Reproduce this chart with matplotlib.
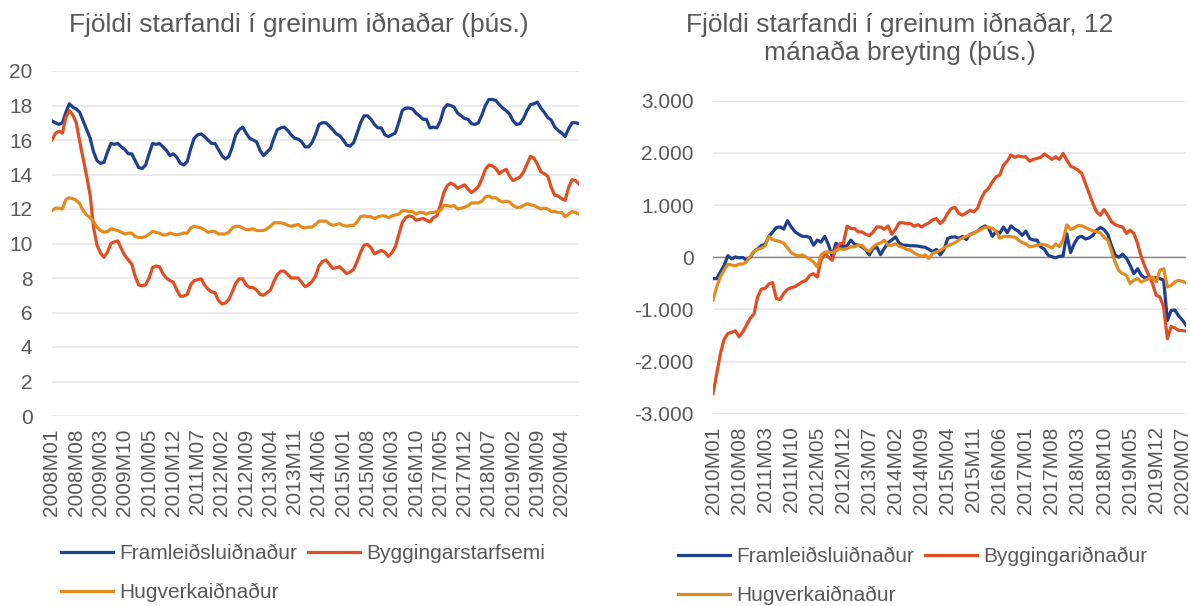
import matplotlib
matplotlib.use("Agg")
import matplotlib.pyplot as plt
from matplotlib.ticker import FuncFormatter

plt.rcParams['font.family'] = ['Liberation Sans', 'DejaVu Sans']

# Fjöldi starfandi (þús.), mánaðarlega 2008M01 - 2020M09
framleidsla = [
    17.1, 17.0, 16.9, 17.0, 17.6, 18.1, 17.9, 17.8, 17.6, 17.1, 16.6, 16.1,
    15.3, 14.8, 14.65, 14.7, 15.3, 15.8, 15.75, 15.8, 15.6, 15.45, 15.2, 15.2,
    14.8, 14.4, 14.35, 14.55, 15.2, 15.8, 15.75, 15.8, 15.6, 15.4, 15.1, 15.2,
    15.0, 14.65, 14.55, 14.75, 15.5, 16.1, 16.3, 16.35, 16.2, 16.0, 15.8, 15.8,
    15.45, 15.1, 14.9, 15.05, 15.6, 16.3, 16.6, 16.75, 16.4, 16.1, 16.0, 15.9,
    15.4, 15.1, 15.3, 15.5, 16.1, 16.6, 16.7, 16.75, 16.55, 16.3, 16.1, 16.05,
    15.9, 15.6, 15.6, 15.85, 16.3, 16.9, 17.0, 17.0, 16.8, 16.6, 16.35, 16.25,
    16.0, 15.7, 15.65, 15.85, 16.4, 17.0, 17.4, 17.4, 17.2, 16.9, 16.7, 16.7,
    16.3, 16.2, 16.3, 16.4, 17.0, 17.7, 17.85, 17.85, 17.8, 17.55, 17.4, 17.2,
    17.2, 16.7, 16.75, 16.7, 17.1, 17.8, 18.05, 18.0, 17.9, 17.55, 17.4, 17.25,
    17.2, 16.95, 16.9, 17.0, 17.45, 18.0, 18.35, 18.35, 18.3, 18.05, 17.85, 17.7,
    17.5, 17.1, 16.9, 16.95, 17.25, 17.7, 18.05, 18.1, 18.2, 17.85, 17.6, 17.3,
    17.15, 16.75, 16.55, 16.4, 16.2, 16.65, 17.0, 17.0, 16.95,
]
bygging = [
    16.0, 16.4, 16.5, 16.4, 17.3, 17.7, 17.45, 17.0, 15.9, 14.9, 13.9, 12.8,
    10.9, 9.9, 9.45, 9.2, 9.5, 10.0, 10.1, 10.15, 9.7, 9.3, 9.05, 8.8,
    8.1, 7.6, 7.55, 7.6, 8.0, 8.6, 8.7, 8.65, 8.25, 8.0, 7.85, 7.75,
    7.3, 6.95, 6.95, 7.05, 7.6, 7.85, 7.9, 7.95, 7.6, 7.35, 7.2, 7.15,
    6.7, 6.5, 6.55, 6.75, 7.2, 7.7, 7.95, 7.95, 7.6, 7.45, 7.45, 7.3,
    7.05, 7.0, 7.15, 7.3, 7.8, 8.2, 8.4, 8.4, 8.2, 8.0, 8.0, 8.0,
    7.75, 7.5, 7.6, 7.8, 8.1, 8.7, 8.95, 9.05, 8.8, 8.55, 8.6, 8.65,
    8.45, 8.25, 8.35, 8.5, 8.95, 9.5, 9.9, 9.95, 9.75, 9.4, 9.5, 9.6,
    9.5, 9.25, 9.45, 9.8, 10.5, 11.2, 11.5, 11.6, 11.55, 11.35, 11.4, 11.45,
    11.35, 11.25, 11.5, 11.6, 12.2, 12.95, 13.35, 13.5, 13.4, 13.2, 13.3, 13.4,
    13.15, 12.95, 13.1, 13.3, 13.75, 14.3, 14.55, 14.5, 14.35, 14.05, 14.2, 14.3,
    13.9, 13.65, 13.75, 13.85, 14.15, 14.6, 15.05, 14.95, 14.6, 14.15, 14.05, 13.9,
    13.25, 12.8, 12.75, 12.6, 12.5, 13.25, 13.7, 13.65, 13.45,
]
hugverk = [
    11.9, 12.05, 12.05, 12.0, 12.55, 12.65, 12.6, 12.5, 12.3, 11.9, 11.65, 11.5,
    11.25, 10.95, 10.75, 10.65, 10.7, 10.85, 10.8, 10.75, 10.65, 10.55, 10.6, 10.6,
    10.4, 10.35, 10.35, 10.4, 10.55, 10.7, 10.65, 10.6, 10.5, 10.5, 10.6, 10.55,
    10.5, 10.55, 10.6, 10.6, 10.9, 11.0, 10.95, 10.9, 10.8, 10.65, 10.7, 10.7,
    10.55, 10.55, 10.55, 10.65, 10.9, 11.0, 11.0, 10.9, 10.8, 10.8, 10.85, 10.75,
    10.75, 10.75, 10.85, 11.0, 11.2, 11.2, 11.2, 11.15, 11.05, 11.0, 11.05, 11.1,
    10.95, 10.9, 10.95, 10.95, 11.1, 11.3, 11.3, 11.3, 11.15, 11.05, 11.1, 11.15,
    11.05, 11.0, 11.05, 11.05, 11.25, 11.55, 11.6, 11.55, 11.55, 11.45, 11.55, 11.6,
    11.6, 11.5, 11.6, 11.65, 11.7, 11.9, 11.9, 11.85, 11.85, 11.7, 11.8, 11.8,
    11.7, 11.8, 11.8, 11.85, 11.9, 12.2, 12.2, 12.15, 12.2, 12.0, 12.05, 12.1,
    12.2, 12.35, 12.35, 12.35, 12.45, 12.7, 12.75, 12.65, 12.65, 12.5, 12.4, 12.45,
    12.4, 12.2, 12.1, 12.1, 12.2, 12.3, 12.25, 12.2, 12.1, 12.0, 12.05, 12.0,
    11.85, 11.85, 11.8, 11.8, 11.55, 11.7, 11.85, 11.8, 11.7,
]

# 12 mánaða breyting, 2010M01 - 2020M08
framleidsla_breyting = [
    -410, -410, -280, -155, 30, -30, 5, -10, -5, -55, 0, 110,
    160, 225, 245, 400, 480, 570, 580, 540, 700, 580, 490, 440,
    400, 400, 380, 230, 330, 290, 400, 240, 20, 270, 215, 205,
    220, 330, 250, 230, 200, 140, 45, 170, 190, 50, 170, 280,
    330, 390, 270, 230, 230, 220, 220, 215, 200, 190, 150, 110,
    150, 45, 140, 360, 385, 390, 360, 400, 340, 440, 460, 500,
    560, 600, 560, 400, 490, 460, 580, 470, 600, 540, 500, 420,
    500, 360, 330, 330, 200, 150, 40, 10, -10, 20, 25, 450,
    90, 260, 380, 400, 350, 370, 420, 520, 570, 530, 440, 220,
    40, 0, 60, -20, -155, -315, -220, -345, -400, -380, -410, -390,
    -410, -440, -1210, -1020, -1010, -1120, -1200, -1300,
]
bygging_breyting = [
    -2615, -2230, -1846, -1570, -1460, -1440, -1410, -1525, -1430, -1300, -1170, -1090,
    -756, -610, -596, -513, -487, -790, -810, -692, -615, -583, -564, -520,
    -470, -440, -345, -315, -380, -60, 80, 0, -60, 165, 260, 260,
    595, 550, 550, 485, 485, 440, 415, 485, 580, 580, 535, 600,
    440, 535, 660, 660, 645, 645, 595, 625, 580, 625, 660, 720,
    740, 645, 710, 840, 935, 955, 840, 805, 850, 900, 870, 935,
    1125, 1255, 1320, 1445, 1540, 1575, 1765, 1840, 1960, 1915, 1940, 1925,
    1925, 1840, 1875, 1895, 1915, 1980, 1930, 1875, 1925, 1875, 1990, 1860,
    1745, 1715, 1670, 1605, 1415, 1220, 1030, 870, 805, 915, 805, 680,
    625, 595, 580, 455, 520, 455, 260, 5, -185, -345, -505, -730,
    -760, -955, -1560, -1325, -1355, -1400, -1405, -1415,
]
hugverk_breyting = [
    -820, -565, -370, -245, -130, -150, -165, -130, -130, -85, 15, 110,
    155, 175, 220, 400, 335, 320, 300, 270, 175, 90, 45, 25,
    45, 5, -40, -90, -185, 40, 100, 100, 90, 120, 165, 150,
    165, 200, 200, 230, 230, 150, 110, 200, 250, 275, 326, 230,
    230, 260, 210, 190, 150, 140, 80, 45, 20, 45, -20, 75,
    100, 130, 175, 220, 250, 280, 330, 370, 400, 430, 460, 500,
    530, 575, 575, 555, 500, 365, 400, 395, 395, 385, 330, 280,
    255, 200, 210, 230, 250, 240, 220, 175, 255, 205, 330, 620,
    535, 560, 610, 600, 570, 535, 510, 490, 470, 380, 330, 120,
    -100, -260, -315, -345, -505, -440, -410, -475, -440, -410, -380, -475,
    -250, -220, -570, -540, -475, -440, -460, -490,
]

months_left = [f"{y}M{m:02d}" for y in range(2008, 2021) for m in range(1, 13)][:len(framleidsla)]
months_right = [f"{y}M{m:02d}" for y in range(2010, 2021) for m in range(1, 13)][:len(bygging_breyting)]

BLUE = '#1f3f8f'
RED = '#e04e24'
ORANGE = '#e38b1f'
TXT = '#595959'
GRID = '#e8e8e8'

fig = plt.figure(figsize=(11.91, 6.06), dpi=100)

W, H = 1191, 606
def box(x0, y0, x1, y1):
    return [x0 / W, 1 - y1 / H, (x1 - x0) / W, (y1 - y0) / H]

ax1 = fig.add_axes(box(52, 71, 579, 416))
ax2 = fig.add_axes(box(713, 100.7, 1186, 413.8))

# --- vinstri mynd ---
x1 = range(len(months_left))
ax1.plot(x1, framleidsla, color=BLUE, lw=2.3, label='Framleiðsluiðnaður')
ax1.plot(x1, bygging, color=RED, lw=2.3, label='Byggingarstarfsemi')
ax1.plot(x1, hugverk, color=ORANGE, lw=2.3, label='Hugverkaiðnaður')
ax1.set_ylim(0, 20)
ax1.set_yticks(range(0, 21, 2))
ax1.set_xlim(0, len(months_left) - 1)
ax1.set_xticks(list(x1)[::7])
ax1.set_xticklabels(months_left[::7], rotation=90)

# --- hægri mynd ---
x2 = range(len(months_right))
ax2.axhline(0, color='#868686', lw=1.0, zorder=1)
ax2.plot(x2, framleidsla_breyting, color=BLUE, lw=2.3, label='Framleiðsluiðnaður')
ax2.plot(x2, bygging_breyting, color=RED, lw=2.3, label='Byggingariðnaður')
ax2.plot(x2, hugverk_breyting, color=ORANGE, lw=2.3, label='Hugverkaiðnaður')
ax2.set_ylim(-3000, 3000)
ax2.set_yticks(range(-3000, 3001, 1000))
ax2.yaxis.set_major_formatter(FuncFormatter(lambda v, p: f"{int(v):,}".replace(',', '.')))
ax2.set_xlim(0, len(months_right) - 1)
ax2.set_xticks(list(x2)[::7])
ax2.set_xticklabels(months_right[::7], rotation=90)

for ax in (ax1, ax2):
    for s in ax.spines.values():
        s.set_visible(False)
    ax.grid(axis='y', color=GRID, lw=1.2)
    ax.set_axisbelow(True)
    ax.tick_params(axis='both', length=0, labelsize=15, labelcolor=TXT)
    ax.tick_params(axis='y', pad=14)
    ax.tick_params(axis='x', pad=9)

# titlar
fig.text(299 / W, 1 - 25 / H, 'Fjöldi starfandi í greinum iðnaðar (þús.)',
         ha='center', va='center', fontsize=19, color=TXT)
fig.text(900 / W, 1 - 25 / H, 'Fjöldi starfandi í greinum iðnaðar, 12',
         ha='center', va='center', fontsize=19, color=TXT)
fig.text(900 / W, 1 - 53 / H, 'mánaða breyting (þús.)',
         ha='center', va='center', fontsize=19, color=TXT)

# skýringar
def legend(ax, x, y):
    h, l = ax.get_legend_handles_labels()
    order = [0, 2, 1]
    ax.legend([h[i] for i in order], [l[i] for i in order], ncol=2,
              loc='upper left', bbox_to_anchor=(x / W, 1 - y / H),
              bbox_transform=fig.transFigure, frameon=False, fontsize=15,
              labelcolor=TXT, handlelength=2.5, handletextpad=0.3,
              columnspacing=0.5, labelspacing=0.95, borderpad=0, borderaxespad=0)

legend(ax1, 61, 544)
legend(ax2, 678, 547)

fig.savefig('out.png', dpi=100)
